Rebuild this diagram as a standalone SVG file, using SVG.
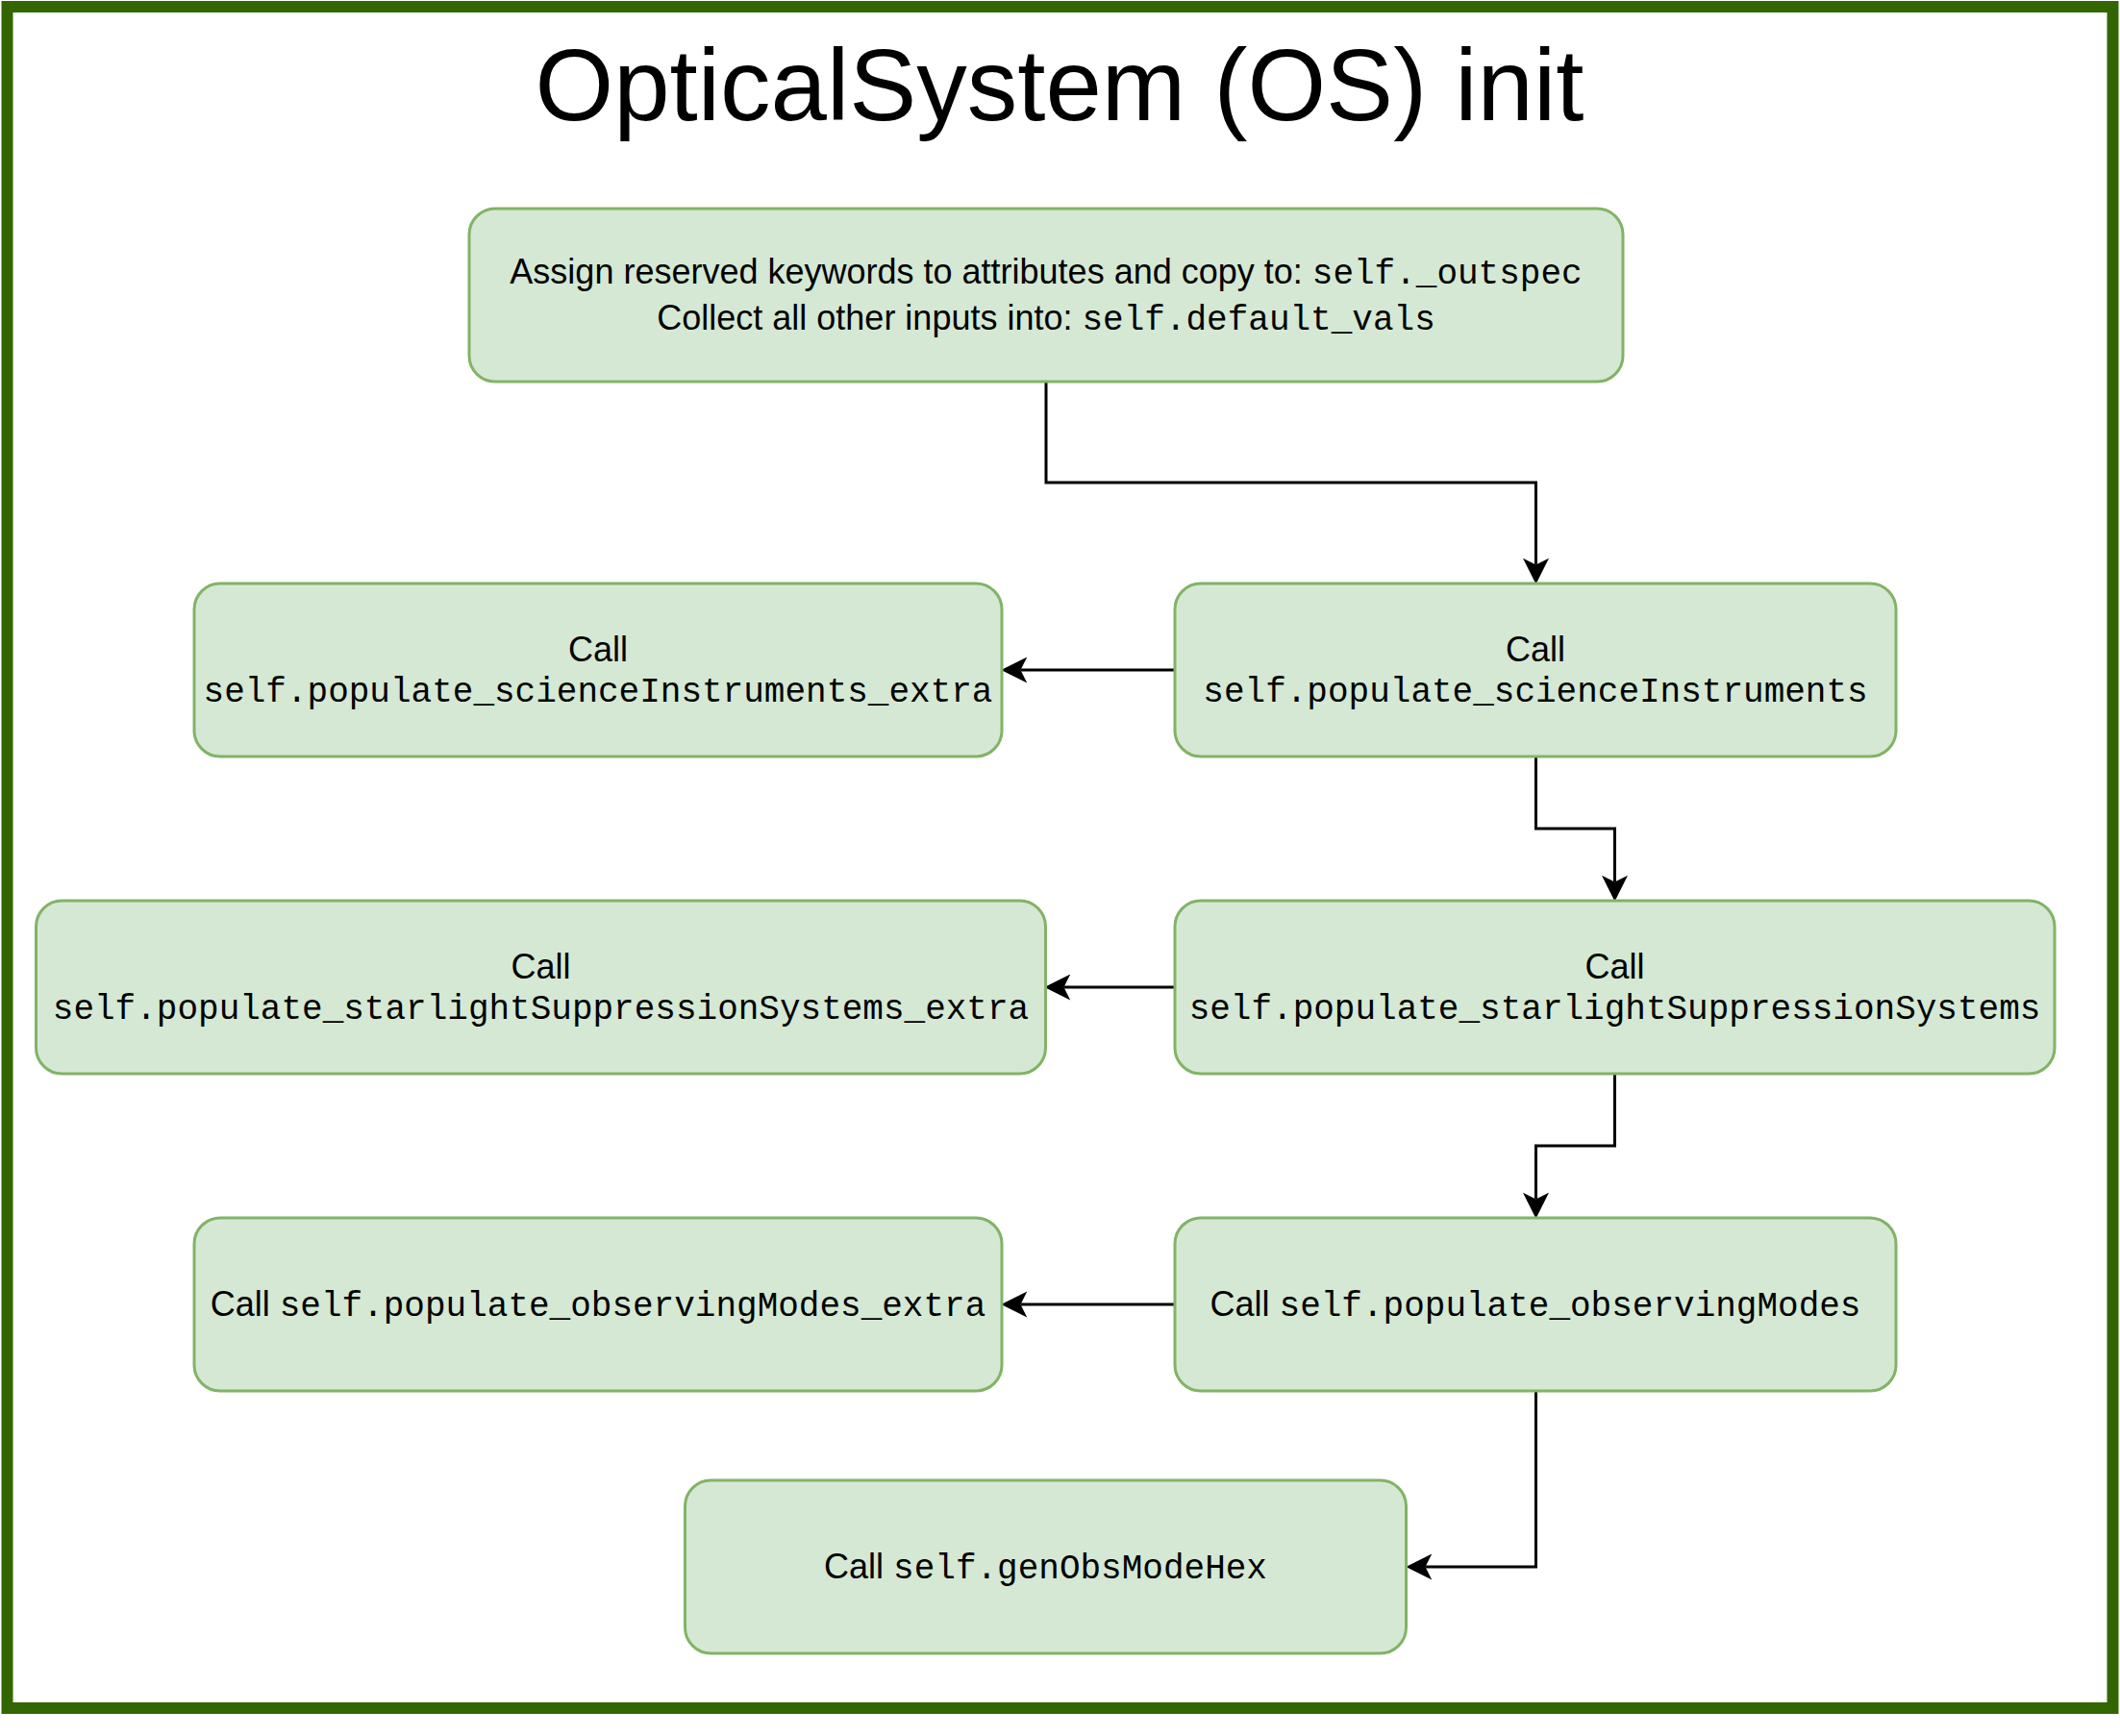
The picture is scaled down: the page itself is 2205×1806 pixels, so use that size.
<svg xmlns="http://www.w3.org/2000/svg" width="2205" height="1806" viewBox="0 0 2205 1806">
<style>
.frame{fill:#ffffff;stroke:#336600;stroke-width:12}
.node{fill:#d5e8d4;stroke:#82b366;stroke-width:3}
.t{font-family:"Liberation Sans",Arial,Helvetica,sans-serif;font-size:36px;fill:#000000}
.m{font-family:"Liberation Mono","Courier New",monospace;font-size:36px}
.title{font-family:"Liberation Sans",Arial,Helvetica,sans-serif;font-size:105px;fill:#000000}
.edge{fill:none;stroke:#000000;stroke-width:3}
</style>
<defs>
<marker id="arrow" markerUnits="userSpaceOnUse" markerWidth="27" markerHeight="27" viewBox="0 0 26 26" refX="6.5" refY="13" orient="auto" overflow="visible">
<path d="M26,13 L0,0 L6.5,13 L0,26 Z" fill="#000000"/>
</marker>
</defs>
<rect x="0" y="0" width="2205" height="1806" fill="#ffffff"/>
<rect class="frame" x="7.5" y="7" width="2190" height="1770"/>
<text class="title" x="1102" y="125" text-anchor="middle">OpticalSystem (OS) init</text>

<g id="connectors">
<path class="edge" d="M1088,397 V502 H1597.5 V587.5" marker-end="url(#arrow)"/>
<path class="edge" d="M1222,697 H1061.5" marker-end="url(#arrow)"/>
<path class="edge" d="M1597.5,787 V862 H1679.5 V917.5" marker-end="url(#arrow)"/>
<path class="edge" d="M1222,1027 H1106.5" marker-end="url(#arrow)"/>
<path class="edge" d="M1679.5,1117 V1192 H1597.5 V1247.5" marker-end="url(#arrow)"/>
<path class="edge" d="M1222,1357 H1061.5" marker-end="url(#arrow)"/>
<path class="edge" d="M1597.5,1447 V1630 H1482.5" marker-end="url(#arrow)"/>
</g>

<g id="node-assign">
<rect class="node" x="488" y="217" width="1200" height="180" rx="27" ry="27"/>
<text class="t" x="1088" y="295" text-anchor="middle">Assign reserved keywords to attributes and copy to: <tspan class="m">self._outspec</tspan></text>
<text class="t" x="1088" y="343" text-anchor="middle">Collect all other inputs into: <tspan class="m">self.default_vals</tspan></text>
</g>

<g id="node-sci">
<rect class="node" x="1222" y="607" width="750" height="180" rx="27" ry="27"/>
<text class="t" x="1597" y="688" text-anchor="middle">Call</text>
<text class="t m" x="1597" y="730" text-anchor="middle">self.populate_scienceInstruments</text>
</g>

<g id="node-sci-extra">
<rect class="node" x="202" y="607" width="840" height="180" rx="27" ry="27"/>
<text class="t" x="622" y="688" text-anchor="middle">Call</text>
<text class="t m" x="622" y="730" text-anchor="middle">self.populate_scienceInstruments_extra</text>
</g>

<g id="node-star">
<rect class="node" x="1222" y="937" width="915" height="180" rx="27" ry="27"/>
<text class="t" x="1679.5" y="1018" text-anchor="middle">Call</text>
<text class="t m" x="1679.5" y="1060" text-anchor="middle">self.populate_starlightSuppressionSystems</text>
</g>

<g id="node-star-extra">
<rect class="node" x="37.5" y="937" width="1050" height="180" rx="27" ry="27"/>
<text class="t" x="562.5" y="1018" text-anchor="middle">Call</text>
<text class="t m" x="562.5" y="1060" text-anchor="middle">self.populate_starlightSuppressionSystems_extra</text>
</g>

<g id="node-obs">
<rect class="node" x="1222" y="1267" width="750" height="180" rx="27" ry="27"/>
<text class="t" x="1597" y="1369" text-anchor="middle">Call <tspan class="m">self.populate_observingModes</tspan></text>
</g>

<g id="node-obs-extra">
<rect class="node" x="202" y="1267" width="840" height="180" rx="27" ry="27"/>
<text class="t" x="622" y="1369" text-anchor="middle">Call <tspan class="m">self.populate_observingModes_extra</tspan></text>
</g>

<g id="node-hex">
<rect class="node" x="712.5" y="1540" width="750" height="180" rx="27" ry="27"/>
<text class="t" x="1087.5" y="1642" text-anchor="middle">Call <tspan class="m">self.genObsModeHex</tspan></text>
</g>
</svg>
